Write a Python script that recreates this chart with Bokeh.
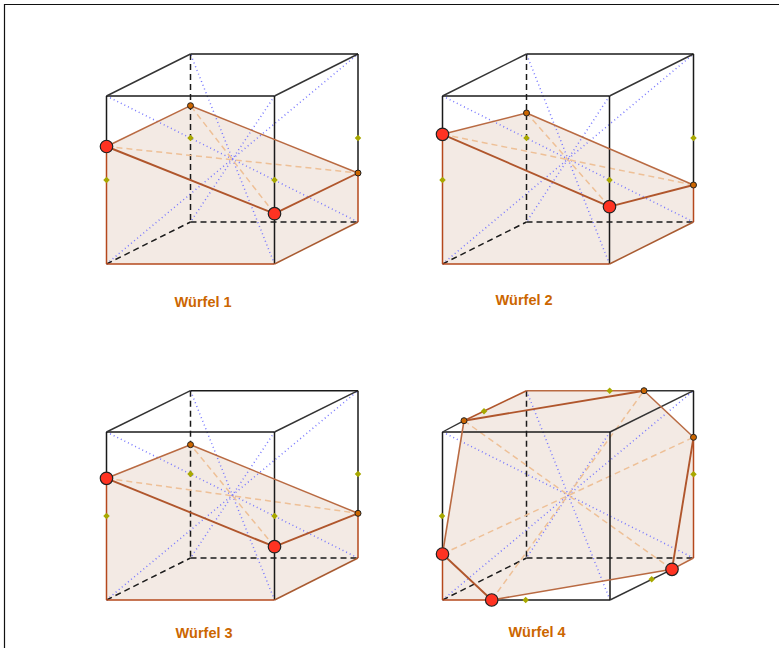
from math import pi
from bokeh.plotting import figure
from bokeh.embed import file_html
from bokeh.resources import INLINE
from bokeh.core.properties import value
from bokeh.models import Range1d

titles = ["Würfel 1", "Würfel 2", "Würfel 3", "Würfel 4"]
title_x = [203, 524, 204, 537]
title_y = [302, 300, 633, 632]

# corners: front-bottom-left, front-bottom-right, back-bottom-right, back-bottom-left, then the top ones
cube1 = [(106.5,264),(274.5,264),(358,222),(190.5,222),(106.5,96),(274.5,96),(358,54),(190.5,54)]
cube2 = [(442.5,264),(609.5,264),(693.5,222),(526.5,222),(442.5,96),(609.5,96),(693.5,54),(526.5,54)]
cube3 = [(106.5,600),(274.5,600),(358,558),(190.5,558),(106.5,432),(274.5,432),(358,390.7),(190.5,390.7)]
cube4 = [(442.5,600),(610,600),(693.5,558),(526.5,558),(442.5,432),(610,432),(693.5,390.7),(526.5,390.7)]
cubes = [cube1, cube2, cube3, cube4]

# red points / small orange points of the sections
red1 = [(106.5,146.5),(274.5,213.7)]
org1 = [(358,173),(190.5,105.7)]
red2 = [(442.5,134.3),(609.5,206.7)]
org2 = [(693.5,185),(526.5,113)]
red3 = [(106.5,478.3),(274.5,546.7)]
org3 = [(358,513.3),(190.5,444.7)]
red4 = [(442.5,554),(491.7,600),(672,569.3)]
org4 = [(693.5,437.3),(644,390.7),(464,420.7)]

green1 = [(106.5,180),(274.5,180),(358,138),(190.5,138)]
green2 = [(442.5,180),(609.5,180),(693.5,138),(526.5,138)]
green3 = [(106.5,516),(274.5,516),(358,474),(190.5,474)]
green4 = [(442,516),(525.7,600),(651.7,579.3),(693.5,474.3),(609.7,390.7),(484,411.3)]

fill4 = [(442.5,600),(491.7,600),(672,569.3),(693.5,558),(693.5,437.3),(644,390.7),(526.5,390.7),(464,420.7),(442.5,554)]

BLACK = "#1a1a1a"
BROWN = "#b0562c"
BROWN_THIN = "#b96a42"
BOTTOM = "#b5481c"
FILL = "#f3eae4"
ORANGE_D = "#eec097"
BLUE = "#7878ff"
GREEN = "#a8a800"

p = figure(width=779, height=648, output_backend="svg", toolbar_location=None,
           x_range=Range1d(0.5, 779.5), y_range=Range1d(648.5, 0.5),
           min_border=0, outline_line_color=None)
p.axis.visible = False
p.grid.visible = False


def seg(a, b, color, width=1.0, dash="solid", alpha=1.0):
    p.line([a[0], b[0]], [a[1], b[1]], line_color=color, line_width=width,
           line_dash=dash, line_alpha=alpha)


def pts(lst, **kw):
    p.scatter([q[0] for q in lst], [q[1] for q in lst], **kw)


# page frame
seg((4, 4.5), (780, 4.5), "#111111", 1.2)
seg((4.5, 4), (4.5, 649), "#111111", 1.2)

sections = [(red1, org1), (red2, org2), (red3, org3)]

for i, c in enumerate(cubes):
    a, b, cc, d, e, f, g, h = c
    # fill
    if i < 3:
        r, o = sections[i]
        poly = [a, b, cc, o[0], o[1], r[0]]
    else:
        poly = fill4
    p.patch([q[0] for q in poly], [q[1] for q in poly], fill_color=FILL, line_color=None)
    # diagonals
    for u, v in ((a, g), (b, h), (e, cc), (f, d)):
        seg(u, v, BLUE, 1.5, "1 3")
    # hidden edges
    seg(h, d, BLACK, 1.5, "6 4")
    seg(d, cc, BLACK, 1.5, "6 4")
    seg(a, d, BLACK, 1.5, "6 4")

for i in range(3):
    a, b, cc, d, e, f, g, h = cubes[i]
    r, o = sections[i]
    # dashed section diagonals
    seg(r[0], o[0], ORANGE_D, 1.5, "6 4")
    seg(r[1], o[1], ORANGE_D, 1.5, "6 4")
    # solid cube edges
    seg(e, f, BLACK, 1.4); seg(f, g, "#333333", 1.4); seg(g, h, BLACK, 1.4); seg(h, e, "#333333", 1.4)
    seg(e, r[0], BLACK, 1.5)
    seg(f, b, BLACK, 1.5)
    seg(g, o[0], BLACK, 1.5)
    # brown bottom edges
    seg(a, b, BOTTOM, 1.5)
    seg(b, cc, "#a85a30", 1.5)
    seg(cc, o[0], BOTTOM, 1.5)
    seg(a, r[0], BOTTOM, 1.5)
    # section
    seg(r[0], r[1], BROWN, 1.9)
    seg(r[1], o[0], BROWN, 1.9)
    seg(o[0], o[1], BROWN_THIN, 1.5)
    seg(o[1], r[0], BROWN_THIN, 1.5)

# fourth cube
a, b, cc, d, e, f, g, h = cube4
P1, P2, P3 = red4
R, T, Q = org4
seg(P1, R, ORANGE_D, 1.5, "6 4")
seg(P2, T, ORANGE_D, 1.5, "6 4")
seg(Q, P3, ORANGE_D, 1.5, "6 4")
seg(e, f, BLACK, 1.4); seg(f, g, "#333333", 1.4); seg(T, g, "#333333", 1.4); seg(e, Q, "#333333", 1.4)
seg(e, P1, BLACK, 1.5)
seg(f, b, BLACK, 1.5)
seg(g, R, BLACK, 1.5)
seg(P2, b, BLACK, 1.5)
seg(b, P3, "#333333", 1.4)
seg(a, P2, BOTTOM, 1.5)
seg(P3, cc, BROWN_THIN, 1.5)
seg(cc, R, BOTTOM, 1.5)
seg(a, P1, BOTTOM, 1.5)
seg(h, T, BROWN_THIN, 1.5)
seg(h, Q, BROWN, 1.6)
seg(P1, P2, BROWN, 1.9)
seg(P2, P3, BROWN_THIN, 1.6)
seg(P3, R, BROWN, 1.9)
seg(R, T, BROWN_THIN, 1.5)
seg(T, Q, BROWN, 1.9)
seg(Q, P1, BROWN_THIN, 1.6)

# points
for g_ in (green1, green2, green3, green4):
    pts(g_, marker="square", size=4.6, angle=pi / 4, fill_color=GREEN, line_color=None)
for o_ in (org1, org2, org3, org4):
    pts(o_, marker="circle", size=6, fill_color="#cc6600", line_color="#222222", line_width=1)
for r_ in (red1, red2, red3, red4):
    pts(r_, marker="circle", size=12.5, fill_color="#ff3322", line_color="#222222", line_width=1.2)

p.text(x=title_x, y=title_y, text=titles, text_font=value("Liberation Sans"),
       text_font_style="bold", text_font_size="14.5px", text_color="#cc6600",
       text_align="center", text_baseline="middle")

open("out.html", "w").write(file_html(p, INLINE))
